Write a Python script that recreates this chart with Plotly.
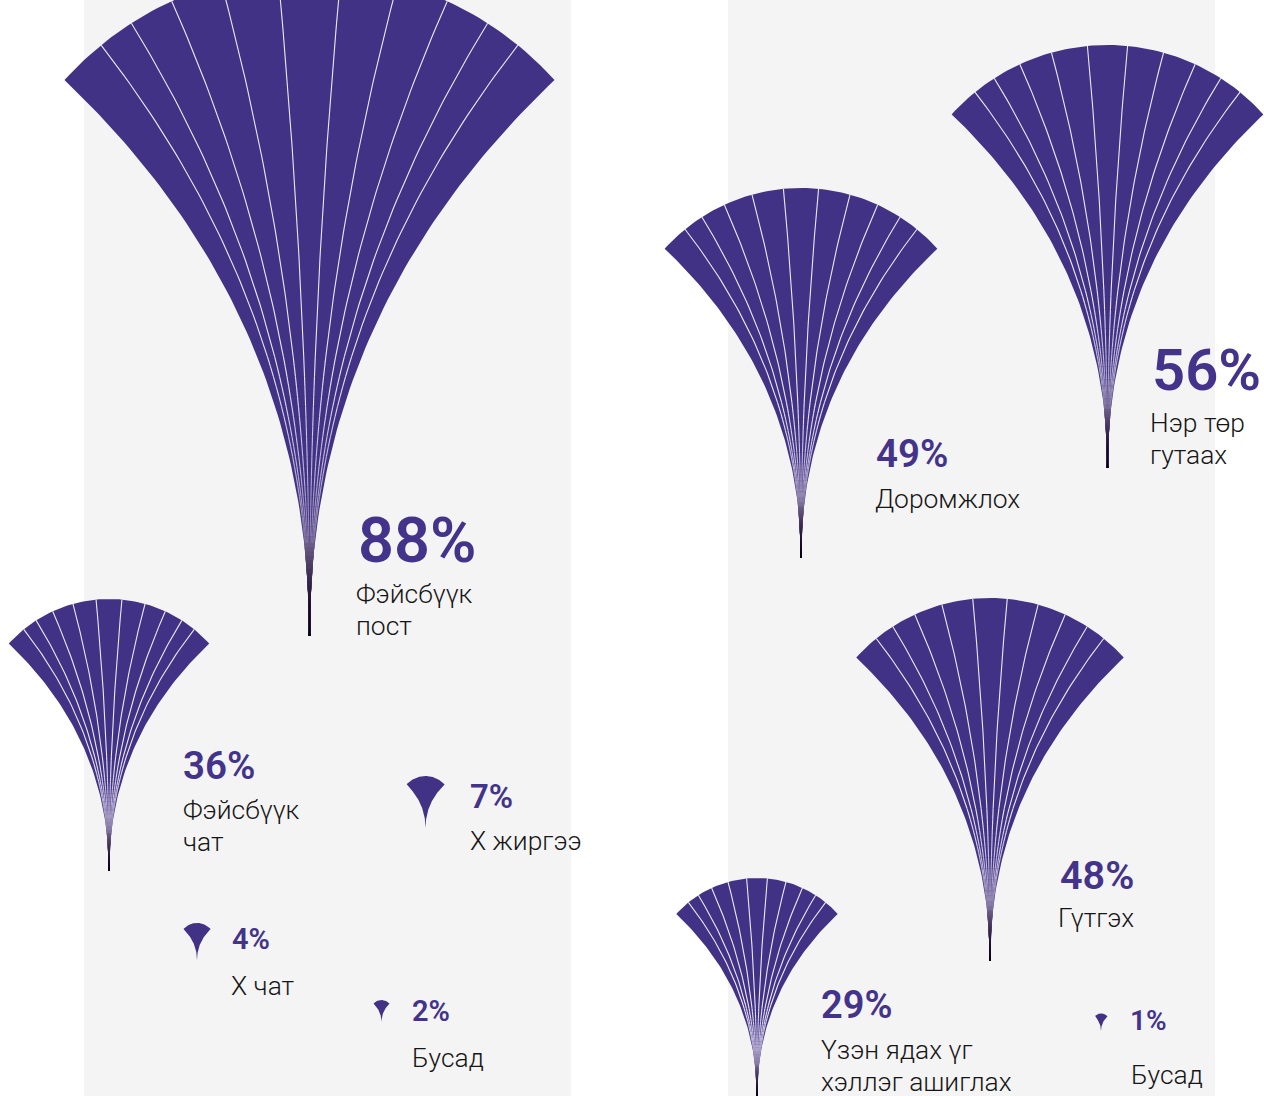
import numpy as np
import plotly.graph_objects as go

# ---- data ----
values = [88, 56, 49, 48, 36, 29, 7, 4, 2, 1]
labels = ["Фэйсбүүк\nпост", "Нэр төр\nгутаах", "Доромжлох", "Гүтгэх",
          "Фэйсбүүк\nчат", "Үзэн ядах үг\nхэллэг ашиглах", "Х жиргээ",
          "Х чат", "Бусад", "Бусад"]
fan_height = [665, 423, 370, 363, 272, 219, 52, 37, 22, 17.5]
apex_x = [309.5, 1107.5, 801, 990, 109, 757, 425.5, 197, 381.5, 1101]
apex_y = [636, 468, 558, 961, 871, 1097, 828, 960, 1022, 1031]
pct_x = [358, 1152, 876, 1060, 183, 821, 470, 232, 412, 1130]
pct_y = [540, 370, 453, 875, 765, 1005, 796, 939, 1011, 1020]
pct_size = [63, 58, 38.5, 39.5, 38.5, 38, 33, 29, 29, 28]
label_x = [356, 1150, 875, 1058, 183, 821, 470, 231, 412, 1131]
label_y = [594, 423, 499, 918, 810, 1050, 841, 986, 1058, 1075]
has_ribs = [True] * 6 + [False] * 4
rib_angles = [-39.2, -32.7, -24.7, -15.5, -5.5, 5.5, 15.5, 24.7, 32.7, 39.2]
panels = [(84, 571), (728, 1215)]

PURPLE = (66, 50, 134)
EDGE_ANGLE = 48.0
RADIUS = 0.4958
CTRL = 0.486
LINE_GAP = 32

rib_frac = [0.02, 0.06, 0.10, 0.16, 0.24, 0.40, 1.0]
rib_r = [20, 40, 90, 140, 185, 235, 238]
rib_g = [10, 25, 75, 128, 178, 232, 236]
rib_b = [40, 50, 115, 170, 212, 243, 245]
stem_frac = [0.0, 0.05, 0.097, 0.14]
stem_r = [3, 26, 64, 106]
stem_g = [0, 10, 48, 92]
stem_b = [6, 42, 87, 133]


def curve(angle_deg, h, t):
    """Quadratic curve from the apex to the point at this angle on the top arc."""
    a = np.radians(angle_deg)
    ex, ey = RADIUS * h * np.sin(a), (1 - RADIUS) * h + RADIUS * h * np.cos(a)
    c = CTRL * h
    return ex * t ** 2, 2 * c * t * (1 - t) + ey * t ** 2


def rgb(r, g, b):
    return f"rgb({int(round(r))},{int(round(g))},{int(round(b))})"


fig = go.Figure()


def poly(xs, ys, color):
    fig.add_trace(go.Scatter(x=xs, y=ys, mode="lines", fill="toself", fillcolor=color,
                             line=dict(width=0), hoverinfo="skip", showlegend=False))


for v, h, ax, ay, ribs in zip(values, fan_height, apex_x, apex_y, has_ribs):
    t = np.linspace(0, 1, 70)
    lx, ly = curve(-EDGE_ANGLE, h, t)
    arc_ang = np.linspace(-EDGE_ANGLE, EDGE_ANGLE, 80)
    arc_x = RADIUS * h * np.sin(np.radians(arc_ang))
    arc_y = (1 - RADIUS) * h + RADIUS * h * np.cos(np.radians(arc_ang))
    rx, ry = curve(EDGE_ANGLE, h, t[::-1])
    xs = np.concatenate([lx, arc_x, rx]) + ax
    ys = ay - np.concatenate([ly, arc_y, ry])
    poly(xs, ys, rgb(*PURPLE))
    if not ribs:
        continue
    # ribs: one trace per height band, fading towards the stem
    band_edges = np.concatenate([np.linspace(0.0, 0.42, 29), [0.95]])
    for lo, hi in zip(band_edges[:-1], band_edges[1:]):
        bx, by = [], []
        for ang in rib_angles:
            grid = np.linspace(0, 1, 400)
            gx, gy = curve(ang, 1.0, grid)
            frac_end = curve(ang, 1.0, 1.0)[1]
            hi2 = frac_end if hi > 0.9 else hi
            t0, t1 = np.interp([lo, hi2], gy, grid)
            tt = np.linspace(t0, t1, 40 if hi > 0.9 else 3)
            x, y = curve(ang, h, tt)
            bx += list(x + ax) + [None]
            by += list(ay - y) + [None]
        m = (lo + hi) / 2 if hi < 0.9 else 0.6
        col = rgb(np.interp(m, rib_frac, rib_r), np.interp(m, rib_frac, rib_g), np.interp(m, rib_frac, rib_b))
        fig.add_trace(go.Scatter(x=bx, y=by, mode="lines", line=dict(color=col, width=1.1),
                                 hoverinfo="skip", showlegend=False, connectgaps=False))
    # dark nested stem tips
    grid = np.linspace(0, 0.5, 500)
    gy = curve(EDGE_ANGLE, 1.0, grid)[1]
    for depth in np.linspace(0.14, 0.004, 22):
        tmax = np.interp(depth, gy, grid)
        tt = np.linspace(0, 1, 14)
        px, py = curve(EDGE_ANGLE, h, tt * tmax)
        px = px + 0.7 * (1 - tt)
        sx = np.concatenate([-px[::-1], px]) + ax
        sy = ay - np.concatenate([py[::-1], py])
        poly(sx, sy, rgb(np.interp(depth, stem_frac, stem_r), np.interp(depth, stem_frac, stem_g),
                         np.interp(depth, stem_frac, stem_b)))

annotations = []
for v, lab, px_, py_, ps, lx_, ly_ in zip(values, labels, pct_x, pct_y, pct_size, label_x, label_y):
    annotations.append(dict(x=px_, y=py_, text=f"{v}%", showarrow=False, xanchor="left", yanchor="middle",
                            xshift=-2, font=dict(family="Roboto", size=ps, color="#43338a", weight=600)))
    for i, line in enumerate(lab.split("\n")):
        annotations.append(dict(x=lx_, y=ly_ + i * LINE_GAP, text=line, showarrow=False, xanchor="left",
                                yanchor="middle", align="left", xshift=-2,
                                font=dict(family="Roboto", size=26.4, color="#161616", weight=300)))

shapes = [dict(type="rect", layer="below", x0=a, x1=b, y0=0, y1=1096, line=dict(width=0), fillcolor="#f4f4f4")
          for a, b in panels]

fig.update_layout(width=1264, height=1096, margin=dict(l=0, r=0, t=0, b=0), autosize=False,
                  paper_bgcolor="white", plot_bgcolor="white", showlegend=False,
                  xaxis=dict(range=[0, 1264], visible=False, fixedrange=True),
                  yaxis=dict(range=[1096, 0], visible=False, fixedrange=True),
                  shapes=shapes, annotations=annotations)
fig.write_html("out.html", post_script="document.body.style.margin='0';document.body.style.overflow='hidden';",
               config={"displayModeBar": False})
